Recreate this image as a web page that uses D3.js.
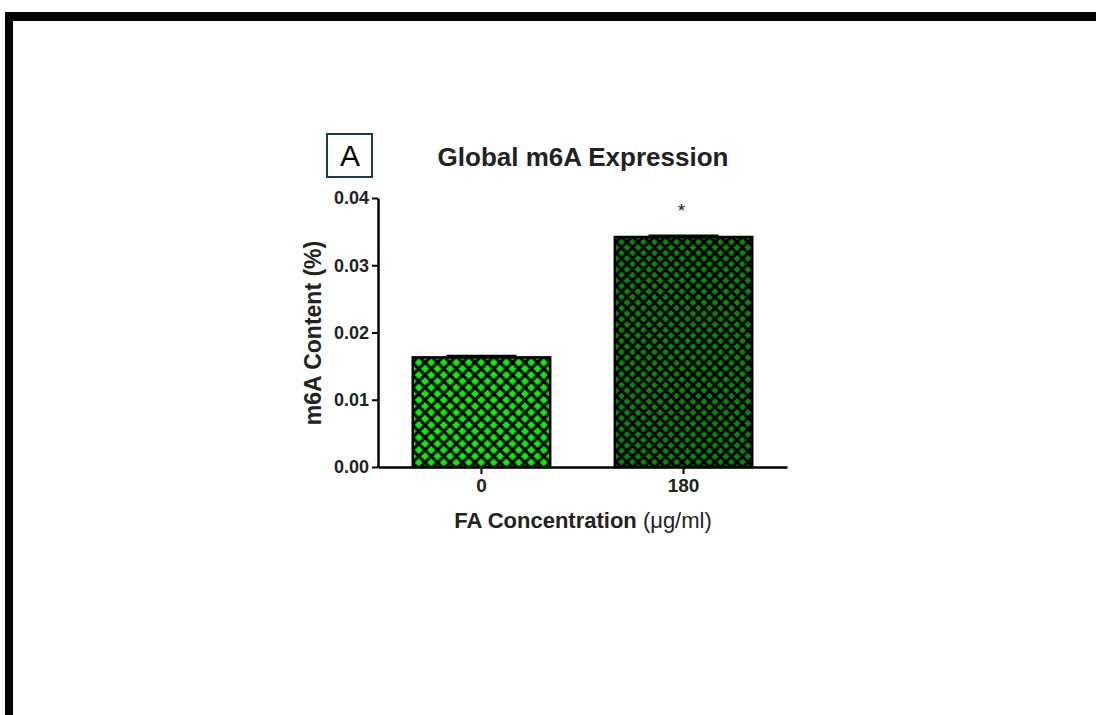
<!DOCTYPE html>
<html>
<head>
<meta charset="utf-8">
<script src="https://cdn.jsdelivr.net/npm/d3@7"></script>
<style>
  body { margin: 0; background: #fff; }
  svg { display: block; font-family: "Liberation Sans", Arial, sans-serif; }
</style>
</head>
<body>
<div id="chart"></div>
<script>
// data
const categories = ["0", "180"];
const values = [0.0163, 0.0342];
const errors = [0.0002, 0.0002];
const fills = ["#00f000", "#008a00"];
const yTicks = [0, 0.01, 0.02, 0.03, 0.04];

const W = 1096, H = 715;
const plot = {left: 378, right: 787, top: 198, bottom: 467};

const svg = d3.select("#chart").append("svg")
  .attr("width", W)
  .attr("height", H);

// frame (top and left border only)
svg.append("rect").attr("x", 5).attr("y", 12).attr("width", W - 5).attr("height", 9).attr("fill", "#000");
svg.append("rect").attr("x", 5).attr("y", 12).attr("width", 8).attr("height", H - 12).attr("fill", "#000");

// crosshatch patterns
const defs = svg.append("defs");
const patSize = [12.5, 11];
fills.forEach((c, i) => {
  const s = patSize[i];
  const p = defs.append("pattern")
    .attr("id", "hatch" + i)
    .attr("patternUnits", "userSpaceOnUse")
    .attr("width", s).attr("height", s);
  p.append("rect").attr("width", s).attr("height", s).attr("fill", c);
  p.append("path")
    .attr("d", `M0,0L${s},${s}M${s},0L0,${s}M${-s/2},${s/2}L${s/2},${s*1.5}M${s/2},${-s/2}L${s*1.5},${s/2}M${s/2},${-s/2}L${-s/2},${s/2}M${s*1.5},${s/2}L${s/2},${s*1.5}`)
    .attr("stroke", "#000")
    .attr("stroke-width", 3);
});

const x = d3.scaleBand()
  .domain(categories)
  .range([plot.left, plot.right])
  .paddingInner(0.32)
  .paddingOuter(0.172);

const y = d3.scaleLinear()
  .domain([0, 0.04])
  .range([plot.bottom, plot.top]);

// bars
svg.append("g").selectAll("rect")
  .data(values)
  .join("rect")
    .attr("x", (d, i) => x(categories[i]))
    .attr("y", d => y(d))
    .attr("width", x.bandwidth())
    .attr("height", d => y(0) - y(d))
    .attr("fill", (d, i) => `url(#hatch${i})`)
    .attr("stroke", "#000")
    .attr("stroke-width", 2.5);

// error bars
const eb = svg.append("g").attr("stroke", "#000").attr("stroke-width", 2.5);
values.forEach((v, i) => {
  const cx = x(categories[i]) + x.bandwidth() / 2;
  eb.append("line").attr("x1", cx).attr("x2", cx).attr("y1", y(v)).attr("y2", y(v + errors[i]));
  eb.append("line").attr("x1", cx - 35).attr("x2", cx + 35).attr("y1", y(v + errors[i])).attr("y2", y(v + errors[i]));
});

// significance star
svg.append("text")
  .attr("x", x("180") + x.bandwidth() / 2 - 2)
  .attr("y", 217)
  .attr("text-anchor", "middle")
  .attr("font-size", 19)
  .attr("fill", "#222")
  .text("*");

// axes
const yAxis = svg.append("g")
  .attr("transform", `translate(${plot.left},0)`)
  .call(d3.axisLeft(y).tickValues(yTicks).tickFormat(d3.format(".2f")).tickSize(6).tickSizeOuter(0));
yAxis.select(".domain").attr("stroke-width", 2.5);
yAxis.selectAll(".tick line").attr("stroke-width", 2);
yAxis.selectAll("text")
  .attr("font-size", 18)
  .attr("font-weight", "bold")
  .attr("font-family", "inherit")
  .attr("fill", "#222")
  .attr("x", -9);

const xAxis = svg.append("g")
  .attr("transform", `translate(0,${plot.bottom})`)
  .call(d3.axisBottom(x).tickSize(7).tickSizeOuter(0));
xAxis.select(".domain").attr("stroke-width", 2.5);
xAxis.selectAll(".tick line").attr("stroke-width", 2);
xAxis.selectAll("text")
  .attr("font-size", 19)
  .attr("font-weight", "bold")
  .attr("font-family", "inherit")
  .attr("fill", "#222")
  .attr("y", 12);

// axis titles
svg.append("text")
  .attr("transform", "translate(321,333) rotate(-90)")
  .attr("text-anchor", "middle")
  .attr("font-size", 23)
  .attr("font-weight", "bold")
  .attr("fill", "#222")
  .text("m6A Content (%)");

const xl = svg.append("text")
  .attr("x", 583)
  .attr("y", 528)
  .attr("text-anchor", "middle")
  .attr("font-size", 22)
  .attr("fill", "#222");
xl.append("tspan").attr("font-weight", "bold").text("FA Concentration ");
xl.append("tspan").text("(\u03bcg/ml)");

// title
svg.append("text")
  .attr("x", 583)
  .attr("y", 166)
  .attr("text-anchor", "middle")
  .attr("font-size", 26)
  .attr("font-weight", "bold")
  .attr("fill", "#222")
  .text("Global m6A Expression");

// panel letter
svg.append("rect")
  .attr("x", 327).attr("y", 134)
  .attr("width", 45).attr("height", 43)
  .attr("fill", "none")
  .attr("stroke", "#1e3a4c")
  .attr("stroke-width", 2);
svg.append("text")
  .attr("x", 350)
  .attr("y", 166)
  .attr("text-anchor", "middle")
  .attr("font-size", 30)
  .text("A");
</script>
</body>
</html>
